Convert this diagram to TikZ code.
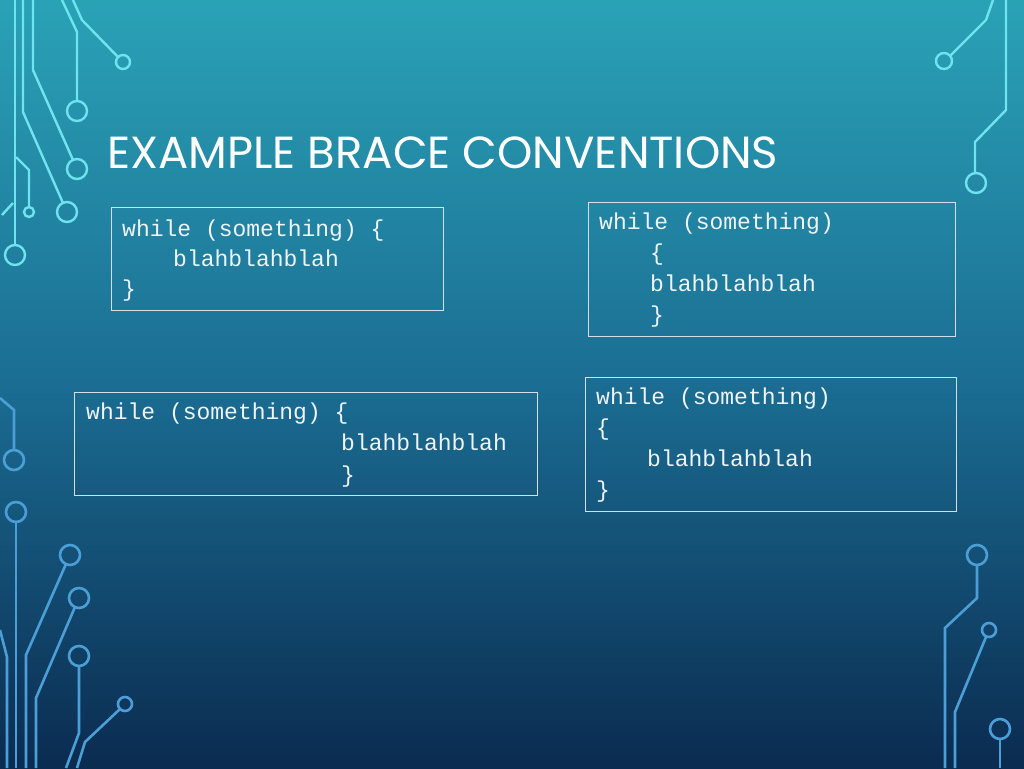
\documentclass[tikz,border=0pt]{standalone}
\usepackage{fontspec}
\setmonofont{Liberation Mono}
\newfontfamily\titlefont{Poppins}
\definecolor{bgtop}{HTML}{2AA2B6}
\definecolor{bgmid}{HTML}{1B6D93}
\definecolor{bgbot}{HTML}{0B2B50}
\definecolor{circA}{HTML}{6FE3F0}
\definecolor{circB}{HTML}{4C9FD6}
\definecolor{boxc}{HTML}{D4E0E8}
\definecolor{txt}{HTML}{EEF4F8}
\begin{document}
\begin{tikzpicture}[x=1pt,y=-1pt,
  cA/.style={draw=circA,line width=2.4pt},
  cB/.style={draw=circB,line width=2.6pt},
  codebox/.style={draw=boxc,line width=1pt},
  code/.style={anchor=base west,inner sep=0pt,text=txt,font=\fontsize{23}{23}\selectfont\ttfamily}]
\shade[top color=bgtop,bottom color=bgbot,middle color=bgmid] (0,0) rectangle (1024,768);
\useasboundingbox (0,0) rectangle (1024,768);
% top-left
\draw[cA] (15,0) -- (15,245);
\draw[cA] (15,255) circle (10);
\draw[cA] (2,215) -- (13,203);
\draw[cA] (16,157) -- (29,170) -- (29,207);
\draw[cA] (29,212) circle (5);
\draw[cA] (23,0) -- (23,112) -- (63,203);
\draw[cA] (67,212) circle (10);
\draw[cA] (33,0) -- (33,70) -- (73,160);
\draw[cA] (77,169) circle (10);
\draw[cA] (62,0) -- (77,32) -- (77,101);
\draw[cA] (77,111) circle (10);
\draw[cA] (73,0) -- (82,20) -- (118,57);
\draw[cA] (123,62) circle (7);
% top-right
\draw[cA] (993,0) -- (986,20) -- (950,56);
\draw[cA] (944,61) circle (8);
\draw[cA] (1006,0) -- (1006,110) -- (975,142) -- (975,173);
\draw[cA] (976,183) circle (10);
% bottom-left
\draw[cB] (0,398) -- (14,410) -- (14,450);
\draw[cB] (14,460) circle (10);
\draw[cB] (16,522) -- (16,768);
\draw[cB] (16,512) circle (10);
\draw[cB] (66,564) -- (26,655) -- (26,768);
\draw[cB] (70,555) circle (10);
\draw[cB] (75,607) -- (36,698) -- (36,768);
\draw[cB] (79,598) circle (10);
\draw[cB] (79,666) -- (79,733) -- (66,768);
\draw[cB] (79,656) circle (10);
\draw[cB] (120,709) -- (85,742) -- (77,768);
\draw[cB] (125,704) circle (7);
\draw[cB] (0,630) -- (7,657) -- (7,768);
% bottom-right
\draw[cB] (977,565) -- (977,598) -- (945,628) -- (945,768);
\draw[cB] (977,555) circle (10);
\draw[cB] (986,637) -- (955,712) -- (955,768);
\draw[cB] (989,630) circle (7);
\draw[cB] (1000,739) -- (1000,768);
\draw[cB] (1000,729) circle (10);
% title
\node[anchor=base west,inner sep=0pt,text=white] (title) at (107,168)
  {\resizebox{671pt}{!}{\titlefont EXAMPLE BRACE CONVENTIONS}};
% box 1
\draw[codebox] (111,207) rectangle (443,310);
\node[code] (a1) at (122,236) {while (something) \{};
\node[code] (a2) at (173,266) {blahblahblah};
\node[code] (a3) at (122,296) {\}};
% box 2
\draw[codebox] (588,202) rectangle (955,336);
\node[code] (b1) at (599,229) {while (something)};
\node[code] (b2) at (650,260) {\{};
\node[code] (b3) at (650,291) {blahblahblah};
\node[code] (b4) at (650,322) {\}};
% box 3
\draw[codebox] (74,392) rectangle (537,495);
\node[code] (c1) at (86,419) {while (something) \{};
\node[code] (c2) at (341,450) {blahblahblah};
\node[code] (c3) at (341,482) {\}};
% box 4
\draw[codebox] (585,377) rectangle (956,511);
\node[code] (d1) at (596,404) {while (something)};
\node[code] (d2) at (596,435) {\{};
\node[code] (d3) at (647,466) {blahblahblah};
\node[code] (d4) at (596,497) {\}};
\end{tikzpicture}
\end{document}
